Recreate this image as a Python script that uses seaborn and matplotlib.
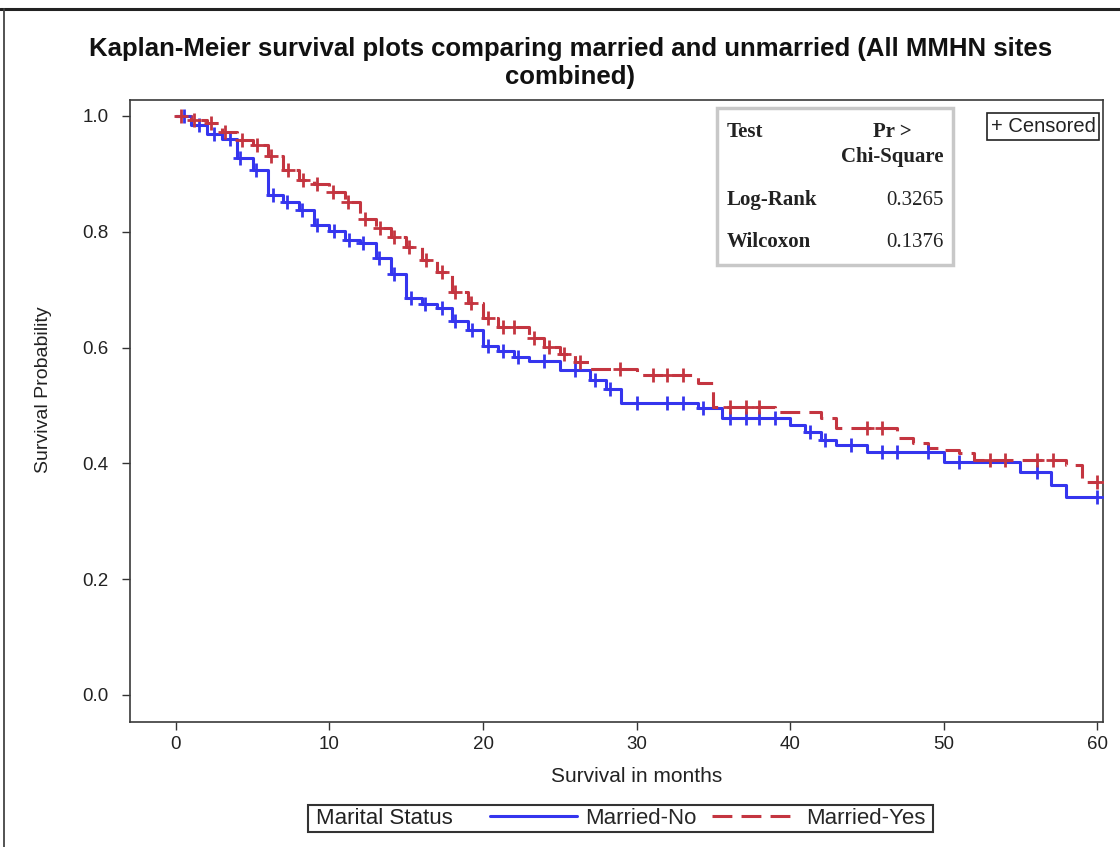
import numpy as np
import pandas as pd
import matplotlib
matplotlib.use("Agg")
import matplotlib.pyplot as plt
from matplotlib.patches import Rectangle
from matplotlib.lines import Line2D
import seaborn as sns

# ---------------- data ----------------
end_time = 60
t_no = [0, 1, 2, 3, 4, 5, 6, 7, 8, 9, 10, 11, 12, 13, 14, 15, 16, 17, 18, 19, 20,
        21, 22, 23, 25, 27, 28, 29, 34, 35.6, 40, 41, 42, 43, 45, 50, 55, 57, 58]
s_no = [1.0, 0.985, 0.968, 0.96, 0.928, 0.906, 0.864, 0.851, 0.838, 0.812, 0.801,
        0.786, 0.78, 0.754, 0.727, 0.686, 0.675, 0.668, 0.646, 0.63, 0.603,
        0.594, 0.584, 0.577, 0.561, 0.544, 0.528, 0.505, 0.496, 0.478, 0.466,
        0.454, 0.44, 0.432, 0.42, 0.402, 0.385, 0.363, 0.342]
c_no = [0.5, 1.5, 2.5, 3.5, 4.2, 5.2, 6.3, 7.2, 8.2, 9.2, 10.3, 11.3, 12.2, 13.2,
        14.2, 15.3, 16.2, 17.3, 18.2, 19.3, 20.3, 21.3, 22.3, 24, 26, 27.3, 28.3,
        30, 32, 33, 34.3, 36.1, 37.1, 38, 39, 41.3, 42.3, 44, 46, 47, 49, 51,
        56.1, 60]

t_yes = [0, 1, 2, 3, 4, 5, 6, 7, 8, 9, 10, 11, 12, 13, 14, 15, 16, 17, 18, 19, 20,
         21, 23, 24, 25, 26, 27, 30, 34, 35, 39, 42, 43, 47, 48, 49, 50, 51, 52,
         58, 59]
s_yes = [1.0, 0.993, 0.988, 0.972, 0.958, 0.95, 0.93, 0.907, 0.89, 0.882, 0.869,
         0.852, 0.822, 0.806, 0.791, 0.774, 0.751, 0.73, 0.696, 0.677, 0.651,
         0.636, 0.616, 0.601, 0.589, 0.575, 0.563, 0.553, 0.539, 0.497, 0.489,
         0.478, 0.461, 0.443, 0.435, 0.426, 0.423, 0.418, 0.406, 0.397, 0.368]
c_yes = [0.3, 1.2, 2.3, 3.2, 4.3, 5.3, 6.2, 7.3, 8.3, 9.2, 10.2, 11.2, 12.3, 13.3,
         14.2, 15.2, 16.3, 17.3, 18.2, 19.2, 20.3, 21.3, 22, 23.3, 24.3, 25.3,
         26.3, 28.9, 31.1, 32, 33, 36.1, 37.1, 38, 45, 46, 53, 54, 56.1, 57.1, 60]

groups = ["Married-No", "Married-Yes"]
test_names = ["Log-Rank", "Wilcoxon"]
p_values = ["0.3265", "0.1376"]
x_ticks = [0, 10, 20, 30, 40, 50, 60]
y_ticks = [0.0, 0.2, 0.4, 0.6, 0.8, 1.0]

title = "Kaplan-Meier survival plots comparing married and unmarried (All MMHN sites\ncombined)"
xlabel = "Survival in months"
ylabel = "Survival Probability"
legend_title = "Marital Status"

# ---------------- styling ----------------
sns.set_theme(style="white")
plt.rcParams["font.family"] = ["Liberation Sans", "DejaVu Sans"]

colors = {"Married-No": "#3535ee", "Married-Yes": "#c43540"}
red_dash = [6.5, 3.0]

fig = plt.figure(figsize=(11.2, 8.47), dpi=100)
fig.patch.set_facecolor("white")
ax = fig.add_axes([0.116, 0.1476, 0.869, 0.7344])


def step_lookup(t, s, c):
    t = np.asarray(t, float)
    s = np.asarray(s, float)
    idx = np.searchsorted(t, np.asarray(c, float), side="right") - 1
    return s[idx]


series = {
    "Married-No": (t_no, s_no, c_no),
    "Married-Yes": (t_yes, s_yes, c_yes),
}

for g in groups:
    t, s, c = series[g]
    tt = list(t) + [end_time]
    ss = list(s) + [s[-1]]
    df = pd.DataFrame({"time": tt, "surv": ss})
    sns.lineplot(data=df, x="time", y="surv", color=colors[g], linewidth=2.2,
                 drawstyle="steps-post", ax=ax)
    if g == "Married-Yes":
        ax.lines[-1].set_dashes(red_dash)
    cdf = pd.DataFrame({"time": c, "surv": step_lookup(t, s, c)})
    sns.scatterplot(data=cdf, x="time", y="surv", marker="+", color=colors[g],
                    s=110, linewidth=2.0, ax=ax, zorder=4)

ax.set_xlim(-3.0, 60.4)
ax.set_ylim(-0.0466, 1.0276)
ax.set_xticks(x_ticks)
ax.set_yticks(y_ticks)
ax.set_xticklabels([str(v) for v in x_ticks])
ax.set_yticklabels([f"{v:.1f}" for v in y_ticks])
ax.tick_params(axis="both", direction="out", length=6, width=1, color="#333333",
               labelsize=13.5, labelcolor="#222222", bottom=True, left=True)
ax.tick_params(axis="x", pad=4)
ax.tick_params(axis="y", pad=9.5)
for sp in ax.spines.values():
    sp.set_color("#3a3a3a")
    sp.set_linewidth(1.2)
ax.set_xlabel(xlabel, fontsize=15, color="#222222")
ax.set_ylabel(ylabel, fontsize=14, color="#222222")
ax.xaxis.set_label_coords(0.521, -0.072)
ax.yaxis.set_label_coords(-0.08, 0.534)

fig.text(0.509, 0.9255, title, ha="center", va="center", fontsize=18.5,
         fontweight="bold", color="#111111", linespacing=1.22)

# statistics table
ax.add_patch(Rectangle((0.603, 0.735), 0.243, 0.252, transform=ax.transAxes,
                       facecolor="white", edgecolor="#c8c8c8", linewidth=2.5,
                       zorder=5))
serif = ["Liberation Serif", "DejaVu Serif"]
tkw = dict(transform=ax.transAxes, family=serif, fontsize=15, color="#222222",
           zorder=6)
ax.text(0.613, 0.949, "Test", ha="left", va="center", fontweight="bold", **tkw)
ax.text(0.783, 0.949, "Pr >", ha="center", va="center", fontweight="bold", **tkw)
ax.text(0.783, 0.908, "Chi-Square", ha="center", va="center", fontweight="bold", **tkw)
for i, (nm, pv) in enumerate(zip(test_names, p_values)):
    yy = 0.839 - i * 0.0675
    ax.text(0.613, yy, nm, ha="left", va="center", fontweight="bold", **tkw)
    ax.text(0.836, yy, pv, ha="right", va="center", **tkw)

# censored box
ax.text(0.992, 0.957, "+ Censored", transform=ax.transAxes, ha="right",
        va="center", fontsize=14.5, color="#222222", zorder=6,
        bbox=dict(boxstyle="square,pad=0.2", facecolor="white",
                  edgecolor="#222222", linewidth=1.2))

# bottom legend
fig.add_artist(Rectangle((0.275, 0.0177), 0.558, 0.0319, transform=fig.transFigure,
                         facecolor="white", edgecolor="#333333", linewidth=1.5))
fig.text(0.282, 0.0337, legend_title, ha="left", va="center", fontsize=16,
         color="#222222")
handles = [Line2D([0], [0], color=colors["Married-No"], lw=2.2),
           Line2D([0], [0], color=colors["Married-Yes"], lw=2.2, dashes=red_dash)]
fig.legend(handles, groups, loc="center left", bbox_to_anchor=(0.4375, 0.0337),
           ncol=2, frameon=False, fontsize=16, handlelength=3.9,
           handletextpad=0.36, columnspacing=0.7, borderpad=0, borderaxespad=0)

# outer figure frame (top & left)
fig.add_artist(Line2D([0.0, 1.0], [0.9895, 0.9895], transform=fig.transFigure,
                      color="#222222", lw=2.2))
fig.add_artist(Line2D([0.0036, 0.0036], [0.0, 0.9895], transform=fig.transFigure,
                      color="#444444", lw=1.3))

fig.savefig("out.png", dpi=100)
